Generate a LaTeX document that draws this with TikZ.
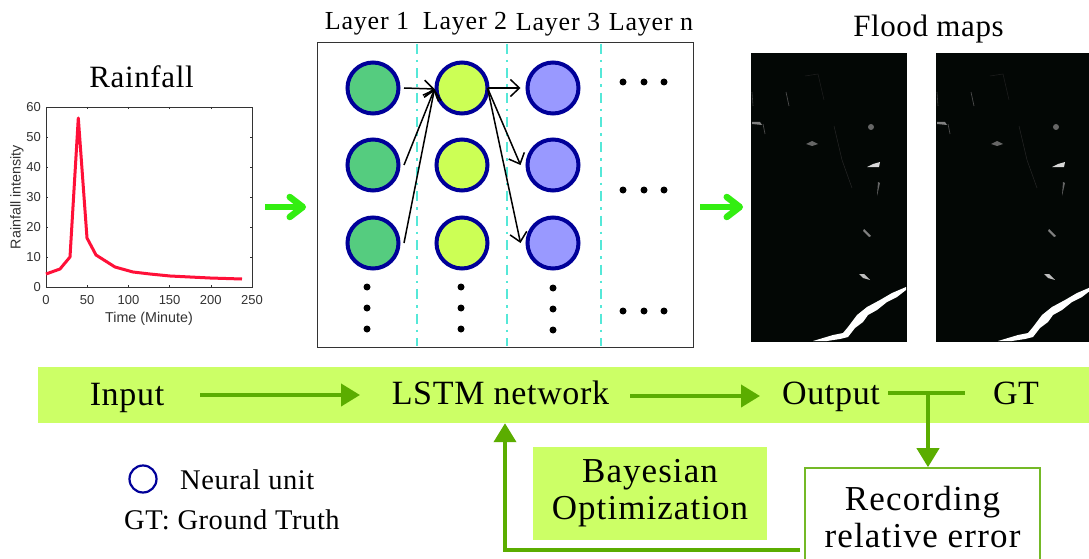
\documentclass[tikz,border=0pt]{standalone}
\usepackage{fontspec}
\setmainfont{Liberation Serif}
\newfontfamily\plotfont{Liberation Sans}
\usetikzlibrary{arrows.meta}
\definecolor{band}{HTML}{CCFF66}
\definecolor{flow}{HTML}{5BAD00}
\definecolor{bright}{HTML}{33EE11}
\definecolor{ring}{HTML}{000099}
\definecolor{gridc}{HTML}{55E8D8}
\definecolor{axisc}{HTML}{333333}
\definecolor{cola}{HTML}{55CC7F}
\definecolor{colb}{HTML}{CCFF55}
\definecolor{colc}{HTML}{9999FF}
\definecolor{mapc}{HTML}{030705}
\definecolor{rainc}{HTML}{FF1038}
\newcommand{\ft}[2]{\fontsize{#1}{#1}\selectfont\addfontfeature{LetterSpace=#2}}
\tikzset{
  unit/.style={circle,draw=ring,line width=4pt,minimum size=51pt,inner sep=0pt},
  lab/.style={inner sep=0pt,align=center,text=black},
  blab/.style={inner sep=0pt,text=black,anchor=base},
  tick/.style={font=\plotfont\fontsize{13}{13}\selectfont,text=axisc,inner sep=0pt},
  axlab/.style={font=\plotfont\fontsize{14.3}{14.3}\selectfont,text=axisc,inner sep=0pt},
  flowline/.style={draw=flow,line width=4pt},
  flowarrow/.style={flowline,-{Triangle[length=19pt,width=22pt]}},
  brightarrow/.style={draw=bright,line width=6.5pt,-{Straight Barb[length=13pt,width=20pt,round]}},
  netarrow/.style={draw=black,line width=1.5pt,-{Straight Barb[length=9pt,width=17pt]}},
  dotm/.style={circle,fill=black,minimum size=7pt,inner sep=0pt},
}
\newcommand{\floodmap}[1]{%
  \begin{scope}[xshift=#1 pt]
    \fill[white] (813,341) -- (833,335) -- (843,333) -- (848,327) -- (857,315) -- (867,307) -- (880,300) -- (892,293) -- (906,287) -- (906,290) -- (897,297) -- (887,302) -- (877,310) -- (868,315) -- (863,322) -- (855,328) -- (848,337) -- (840,339) -- (827,341) -- cycle;
    \fill[white!85!black] (873,164) -- (880,162) -- (879,167) -- (867,167) -- cycle;
    \fill[white!40!black] (871,127) circle (3pt);
    \fill[white!40!black] (878,182) -- (880,183) -- (877,196) -- cycle;
    \fill[white!50!black] (864,229) -- (871,236) -- (869,237) -- (863,231) -- cycle;
    \fill[white!75!black] (859,274) -- (864,274) -- (870,280) -- (863,278) -- cycle;
    \fill[white!40!black] (806,144) -- (812,141) -- (818,144) -- (812,146) -- cycle;
    \fill[white!50!black] (752,122) -- (760,122) -- (762,125) -- (752,124) -- cycle;
    \draw[white!30!black,line width=.7pt] (763,124) -- (765,134);
    \draw[white!30!black,line width=.7pt] (786,92) -- (789,106);
    \draw[white!15!black,line width=.5pt] (834,126) -- (842,160) -- (852,188);
    \draw[white!25!black,line width=.6pt] (752,92) -- (753,106);
    \draw[white!12!black,line width=.5pt] (805,76) -- (818,74) -- (824,100);
  \end{scope}}
\begin{document}
\begin{tikzpicture}[x=1pt,y=-1pt]
\useasboundingbox (0,0) rectangle (1089,559);
\fill[white] (0,0) rectangle (1089,559);

% Rainfall plot
\node[blab,font=\ft{31}{2}] (rain) at (141.5,88) {Rainfall};
\draw[axisc,line width=.9pt] (46,107) rectangle (252,287);
\foreach \v/\n in {0/y0,10/y1,20/y2,30/y3,40/y4,50/y5,60/y6}{
  \pgfmathsetmacro\yy{287-3*\v}
  \node[tick,anchor=east] (\n) at (41,\yy) {\v};
  \ifnum\v>0 \ifnum\v<60
  \draw[axisc,line width=.6pt] (46,\yy) -- (48,\yy) (252,\yy) -- (250,\yy);
  \fi\fi
}
\foreach \v/\n in {0/x0,50/x1,100/x2,150/x3,200/x4,250/x5}{
  \pgfmathsetmacro\xx{46+0.824*\v}
  \node[tick,anchor=north] (\n) at (\xx,295) {\v};
  \ifnum\v>0 \ifnum\v<250
  \draw[axisc,line width=.6pt] (\xx,287) -- (\xx,285) (\xx,107) -- (\xx,109);
  \fi\fi
}
\node[axlab,anchor=north] (xlab) at (149,312) {Time (Minute)};
\node[axlab,rotate=90] (ylab) at (17,197) {Rainfall intensity};
\draw[draw=rainc,line width=3pt,line join=round]
 (46,274) -- (60,269) -- (70,257) -- (78.3,118) -- (87,238) -- (96,255) -- (115,267) -- (133,272) -- (150,274) -- (170,276) -- (190,277) -- (210,278) -- (242,279);

% Network
\node[draw=axisc,line width=1pt,minimum width=376pt,minimum height=304pt,inner sep=0pt] (net) at (505,195) {};
\foreach \x in {417,507,601}
  \draw[gridc,line width=2.8pt,dash pattern=on 10pt off 6pt on 2.5pt off 6pt] (\x,44) -- (\x,346);
\foreach \c/\x/\f in {a/373/cola,b/462/colb,c/553/colc}{
  \node[unit,fill=\f] (\c1) at (\x,88) {};
  \node[unit,fill=\f] (\c2) at (\x,165) {};
  \node[unit,fill=\f] (\c3) at (\x,243) {};
}
\path (b1.west) ++(0,1) coordinate (bin);
\path (b1.east) ++(-2,0) coordinate (bout);
\path (a1.east) ++(3.5,0) coordinate (a1o);
\path (a2.east) ++(3.5,0) coordinate (a2o);
\path (a3.east) ++(3.5,0) coordinate (a3o);
\path (c1.west) ++(-5,0) coordinate (c1i);
\path (c2.west) ++(-5,0) coordinate (c2i);
\path (c3.west) ++(-5,0) coordinate (c3i);
\draw[netarrow] (a1o) -- (bin);
\draw[netarrow] (a2o) -- (bin);
\draw[netarrow] (a3o) -- (bin);
\draw[netarrow] (bout) -- (c1i);
\draw[netarrow] (bout) -- (c2i);
\draw[netarrow] (bout) -- (c3i);
\foreach \n/\x/\y in {d1/623/82,d2/644/82,d3/664/82,d4/623/190,d5/644/190,d6/664/190,d7/623/311,d8/644/311,d9/664/311,
  e1/367/287,e2/367/308,e3/367/329,e4/461/287,e5/461/308,e6/461/329,e7/553/288,e8/553/309,e9/553/330}
  \node[dotm] (\n) at (\x,\y) {};
\node[blab,font=\ft{26}{3}] (l1) at (367,30) {Layer 1};
\node[blab,font=\ft{26}{3}] (l2) at (465,30) {Layer 2};
\node[blab,font=\ft{26}{3}] (l3) at (558,31) {Layer 3};
\node[blab,font=\ft{26}{3}] (ln) at (651,31) {Layer n};

% Flood maps
\node[blab,font=\ft{31}{2}] (flood) at (928.5,37) {Flood maps};
\fill[mapc] (751,53) rectangle (907,342);
\fill[mapc] (936,53) rectangle (1089,342);
\floodmap{0}
\begin{scope}
  \clip (936,53) rectangle (1089,342);
  \floodmap{185}
\end{scope}

% Bright arrows
\coordinate (ga) at (265,207); \coordinate (gb) at (306,207);
\coordinate (gc) at (700,207); \coordinate (gd) at (743,207);
\draw[brightarrow] (ga) -- (gb);
\draw[brightarrow] (gc) -- (gd);

% Band
\node[fill=band,minimum width=1051pt,minimum height=56pt,inner sep=0pt] (bandbox) at (563.5,395) {};
\node[blab,font=\ft{34}{2}] (input) at (127,405) {Input};
\node[blab,font=\ft{34}{2}] (lstm) at (500.5,404) {LSTM network};
\node[blab,font=\ft{34}{2}] (output) at (831,404) {Output};
\node[blab,font=\ft{34}{2}] (gt) at (1016,404) {GT};
\coordinate (i1) at (200,395);
\coordinate (i2) at (360,395);
\coordinate (o1) at (630,396);
\coordinate (o2) at (760,396);
\draw[flowarrow] (i1) -- (i2);
\draw[flowarrow] (o1) -- (o2);
\coordinate (tl) at (888,393); \coordinate (tr) at (965,393); \coordinate (tm) at (928,393);
\draw[flowline] (tl) -- (tr);

% Lower boxes
\node[fill=band,lab,minimum width=234pt,minimum height=93pt,font=\ft{35}{3}] (bayes) at (650,493) {Bayesian\\[2pt]Optimization};
\node[draw=flow!85!white,fill=white,line width=1.6pt,minimum width=235pt,minimum height=110pt,inner sep=0pt] (rec) at (922.5,523) {};
\node[lab,font=\ft{35}{3.4}] (rectext) at (922.5,517) {Recording\\[2pt]relative error};
\draw[flowarrow] (tm) -- (tm |- rec.north);
\coordinate (fbs) at (800,550);
\coordinate (fbc) at (505,550);
\draw[flowarrow,line join=miter] (fbs) -- (fbc) -- (fbc |- bandbox.south);

% Legend
\node[circle,draw=ring,line width=2.2pt,minimum size=27pt,inner sep=0pt] (legc) at (143,479) {};
\node[inner sep=0pt,text=black,anchor=base west,font=\ft{28.5}{2}] (legn) at (180,489) {Neural unit};
\node[inner sep=0pt,text=black,anchor=base west,font=\ft{28.5}{2}] (legg) at (124,529) {GT: Ground Truth};
\end{tikzpicture}
\end{document}
